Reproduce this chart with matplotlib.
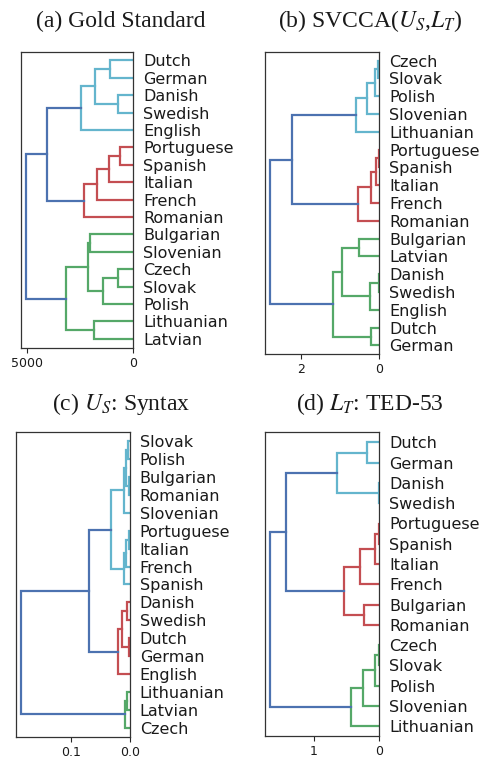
import matplotlib
matplotlib.use("Agg")
import matplotlib.pyplot as plt

plt.rcParams["mathtext.fontset"] = "stix"

# ---------------- data ----------------
titles = ["(a) Gold Standard", "(b) SVCCA($U_S$,$L_T$)", "(c) $U_S$: Syntax", "(d) $L_T$: TED-53"]

leaves_a = ["Dutch", "German", "Danish", "Swedish", "English", "Portuguese", "Spanish",
            "Italian", "French", "Romanian", "Bulgarian", "Slovenian", "Czech", "Slovak",
            "Polish", "Lithuanian", "Latvian"]
merges_a = [
    ("m0", "Dutch", "German", 1094),
    ("m1", "Danish", "Swedish", 703),
    ("m2", "m0", "m1", 1797),
    ("m3", "m2", "English", 2469),
    ("m4", "Portuguese", "Spanish", 625),
    ("m5", "m4", "Italian", 1125),
    ("m6", "m5", "French", 1703),
    ("m7", "m6", "Romanian", 2297),
    ("m8", "m3", "m7", 4063),
    ("m9", "Bulgarian", "Slovenian", 2031),
    ("m10", "Czech", "Slovak", 703),
    ("m11", "m10", "Polish", 1422),
    ("m12", "m9", "m11", 2125),
    ("m13", "Lithuanian", "Latvian", 1828),
    ("m14", "m12", "m13", 3172),
    ("m15", "m8", "m14", 5031),
]
threshold_a = 3522
xticks_a = [5000, 0]
xticklabels_a = ["5000", "0"]

leaves_b = ["Czech", "Slovak", "Polish", "Slovenian", "Lithuanian", "Portuguese", "Spanish",
            "Italian", "French", "Romanian", "Bulgarian", "Latvian", "Danish", "Swedish",
            "English", "Dutch", "German"]
merges_b = [
    ("m0", "Czech", "Slovak", 0.026),
    ("m1", "m0", "Polish", 0.12),
    ("m2", "m1", "Slovenian", 0.33),
    ("m3", "m2", "Lithuanian", 0.605),
    ("m4", "Portuguese", "Spanish", 0.025),
    ("m5", "m4", "Italian", 0.077),
    ("m6", "m5", "French", 0.21),
    ("m7", "m6", "Romanian", 0.545),
    ("m8", "m3", "m7", 2.24),
    ("m9", "Bulgarian", "Latvian", 0.52),
    ("m10", "Danish", "Swedish", 0.02),
    ("m11", "m10", "English", 0.245),
    ("m12", "m9", "m11", 0.97),
    ("m13", "Dutch", "German", 0.22),
    ("m14", "m12", "m13", 1.2),
    ("m15", "m8", "m14", 2.79),
]
threshold_b = 1.95
xticks_b = [2, 0]
xticklabels_b = ["2", "0"]

leaves_c = ["Slovak", "Polish", "Bulgarian", "Romanian", "Slovenian", "Portuguese", "Italian",
            "French", "Spanish", "Danish", "Swedish", "Dutch", "German", "English",
            "Lithuanian", "Latvian", "Czech"]
merges_c = [
    ("m0", "Slovak", "Polish", 0.0028),
    ("m1", "Bulgarian", "Romanian", 0.0017),
    ("m2", "m0", "m1", 0.0068),
    ("m3", "m2", "Slovenian", 0.011),
    ("m4", "Portuguese", "Italian", 0.0018),
    ("m5", "m4", "French", 0.0065),
    ("m6", "m5", "Spanish", 0.011),
    ("m7", "m3", "m6", 0.0325),
    ("m8", "Danish", "Swedish", 0.0056),
    ("m9", "Dutch", "German", 0.001),
    ("m10", "m8", "m9", 0.013),
    ("m11", "m10", "English", 0.0198),
    ("m12", "m7", "m11", 0.0695),
    ("m13", "Lithuanian", "Latvian", 0.0055),
    ("m14", "m13", "Czech", 0.0078),
    ("m15", "m12", "m14", 0.1847),
]
threshold_c = 0.05
xticks_c = [0.1, 0.0]
xticklabels_c = ["0.1", "0.0"]

leaves_d = ["Dutch", "German", "Danish", "Swedish", "Portuguese", "Spanish", "Italian",
            "French", "Bulgarian", "Romanian", "Czech", "Slovak", "Polish", "Slovenian",
            "Lithuanian"]
merges_d = [
    ("m0", "Dutch", "German", 0.19),
    ("m1", "Danish", "Swedish", 0.01),
    ("m2", "m0", "m1", 0.65),
    ("m3", "Portuguese", "Spanish", 0.012),
    ("m4", "m3", "Italian", 0.066),
    ("m5", "m4", "French", 0.29),
    ("m6", "Bulgarian", "Romanian", 0.235),
    ("m7", "m5", "m6", 0.54),
    ("m8", "m2", "m7", 1.43),
    ("m9", "Czech", "Slovak", 0.008),
    ("m10", "m9", "Polish", 0.066),
    ("m11", "m10", "Slovenian", 0.245),
    ("m12", "m11", "Lithuanian", 0.43),
    ("m13", "m8", "m12", 1.668),
]
threshold_d = 1.17
xticks_d = [1, 0]
xticklabels_d = ["1", "0"]

# ---------------- style ----------------
ABOVE = "#4C72B0"
CLUSTER_COLORS = ["#55A868", "#C44E52", "#64B5CD"]
W, H = 485, 757
LW = 1.6


def rect(l, r, t, b):
    return [l / W, 1 - b / H, (r - l) / W, (b - t) / H]


def draw_dendro(ax, leaves, merges, threshold, xticks, xticklabels):
    n = len(leaves)
    pos = {name: 10 * (n - 1 - i) + 5 for i, name in enumerate(leaves)}
    hgt = {name: 0.0 for name in leaves}
    children = {}
    for name, a, b, h in merges:
        pos[name] = (pos[a] + pos[b]) / 2.0
        hgt[name] = h
        children[name] = (a, b)
    parent = {}
    for name, a, b, h in merges:
        parent[a] = name
        parent[b] = name
    roots = [name for name, a, b, h in merges
             if h < threshold and (name not in parent or hgt[parent[name]] >= threshold)]
    roots.sort(key=lambda r: pos[r])
    color = {}

    def paint(node, c):
        if node in children:
            color[node] = c
            for ch in children[node]:
                paint(ch, c)

    for i, r in enumerate(roots):
        paint(r, CLUSTER_COLORS[i % len(CLUSTER_COLORS)])
    for name, a, b, h in merges:
        c = color.get(name, ABOVE)
        ax.plot([hgt[a], h, h, hgt[b]], [pos[a], pos[a], pos[b], pos[b]],
                color=c, lw=LW, solid_joinstyle="miter", zorder=2)
    mh = max(m[3] for m in merges)
    ax.set_xlim(mh * 1.05, 0)
    ax.set_ylim(0, 10 * n)
    ax.set_yticks([pos[l] for l in leaves])
    ax.set_yticklabels(leaves)
    ax.yaxis.set_ticks_position("right")
    ax.tick_params(axis="y", length=0, pad=7, labelsize=11.5, labelcolor="0.1")
    ax.set_xticks(xticks)
    ax.set_xticklabels(xticklabels)
    ax.tick_params(axis="x", length=3.5, width=0.8, pad=3, labelsize=9,
                   labelcolor="0.1", color="0.15")
    for s in ax.spines.values():
        s.set_color("0.2")
        s.set_linewidth(0.9)


fig = plt.figure(figsize=(W / 100, H / 100), dpi=100)

panels = [
    (leaves_a, merges_a, threshold_a, xticks_a, xticklabels_a, rect(20.7, 133.3, 51.7, 347.5)),
    (leaves_b, merges_b, threshold_b, xticks_b, xticklabels_b, rect(265.0, 379.5, 51.7, 354.3)),
    (leaves_c, merges_c, threshold_c, xticks_c, xticklabels_c, rect(15.7, 130.0, 432.3, 736.5)),
    (leaves_d, merges_d, threshold_d, xticks_d, xticklabels_d, rect(265.0, 379.3, 432.3, 736.3)),
]
for leaves, merges, thr, xt, xtl, r in panels:
    ax = fig.add_axes(r)
    draw_dendro(ax, leaves, merges, thr, xt, xtl)

title_pos = [(121, 27.5), (370, 27.5), (121, 410), (370, 410)]
for t, (x, y) in zip(titles, title_pos):
    fig.text(x / W, 1 - y / H, t, ha="center", va="baseline", fontsize=17,
             family=["Liberation Serif", "DejaVu Serif"], color="0.1")

fig.savefig("out.png", dpi=100)
